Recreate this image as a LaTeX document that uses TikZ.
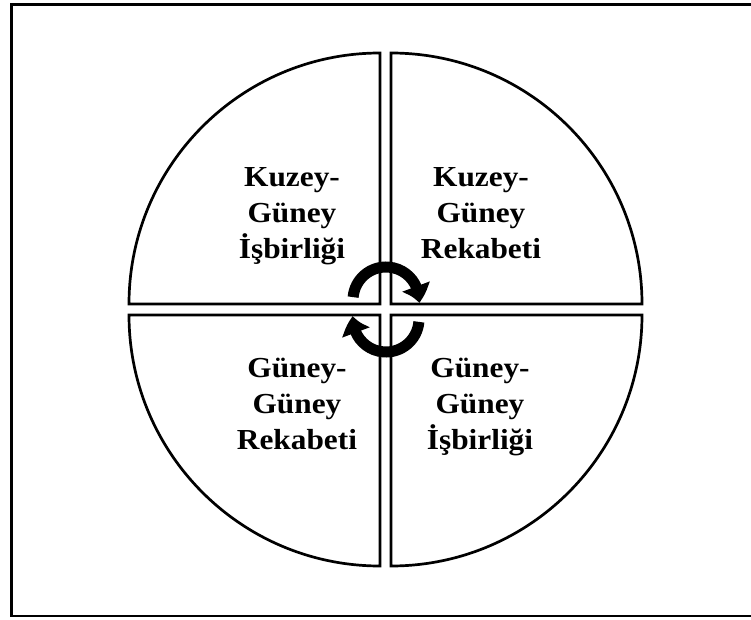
\documentclass[tikz,border=0pt]{standalone}
\usepackage{fontspec}
\setmainfont{Liberation Serif}
\usepackage{tikz}
\usetikzlibrary{positioning,arrows.meta,bending,calc}

\newcommand{\widelbl}[1]{\scalebox{1.08}[1]{\begin{tabular}{@{}c@{}}#1\end{tabular}}}

\begin{document}
\begin{tikzpicture}[
  x=1pt, y=1pt,
  frame/.style={draw=black, line width=2.8pt},
  quad/.style={draw=black, line width=2.7pt, line join=miter},
  lbl/.style={font=\fontsize{29}{36}\selectfont\bfseries, inner sep=0pt},
  cyc/.style={line width=11pt, -{Triangle[width=28pt,length=17pt,bend]}},
]
\useasboundingbox (0,0) rectangle (751,619);
\draw[frame] (11.5,614.5) rectangle (760,3);

% four quarter discs
\draw[quad] (380,315) -- (129,315) arc[start angle=180, end angle=90, radius=251] -- cycle;
\draw[quad] (391,315) -- (391,566) arc[start angle=90, end angle=0, radius=251] -- cycle;
\draw[quad] (380,304) -- (380,53) arc[start angle=270, end angle=180, radius=251] -- cycle;
\draw[quad] (391,304) -- (642,304) arc[start angle=0, end angle=-90, radius=251] -- cycle;

% labels
\node[lbl] (kgi) at (292,404) {\widelbl{Kuzey-\\Güney\\İşbirliği}};
\node[lbl] (kgr) at (481,404) {\widelbl{Kuzey-\\Güney\\Rekabeti}};
\node[lbl] (ggr) at (297,213) {\widelbl{Güney-\\Güney\\Rekabeti}};
\node[lbl] (ggi) at (480,213) {\widelbl{Güney-\\Güney\\İşbirliği}};

% cycle arrows
\coordinate (hubtop) at (386,319);
\coordinate (hubbot) at (386,300);
\draw[cyc] ($(hubtop)+(175:33)$) arc[start angle=175, end angle=-5, radius=33];
\draw[cyc] ($(hubbot)+(-5:33)$) arc[start angle=-5, end angle=-185, radius=33];
\end{tikzpicture}
\end{document}
